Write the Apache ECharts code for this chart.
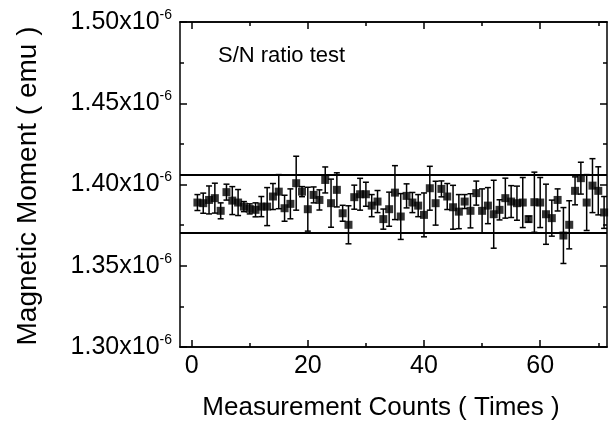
<!DOCTYPE html>
<html>
<head>
<meta charset="utf-8">
<script src="https://cdn.jsdelivr.net/npm/echarts@6.0.0/dist/echarts.min.js"></script>
<style>
html,body{margin:0;padding:0;background:#fff;}
#chart{width:615px;height:430px;}
</style>
</head>
<body>
<div id="chart"></div>
<script>
// Measurement index (Times)
const counts = [1,2,3,4,5,6,7,8,9,10,11,12,13,14,15,16,17,18,19,20,
  21,22,23,24,25,26,27,28,29,30,31,32,33,34,35,36,37,38,39,40,
  41,42,43,44,45,46,47,48,49,50,51,52,53,54,55,56,57,58,59,60,
  61,62,63,64,65,66,67,68,69,70,71];
// Magnetic moment in units of 1e-6 emu
const momentE6 = [1.3889,1.3885,1.3905,1.3916,1.3838,1.3953,1.3901,1.3889,1.3864,1.3850,
  1.3844,1.3864,1.3864,1.3926,1.3956,1.3854,1.3881,1.4008,1.3956,1.3848,
  1.3936,1.3905,1.4028,1.3885,1.3967,1.3823,1.3752,1.3922,1.3940,1.3940,
  1.3870,1.3895,1.3787,1.3848,1.3950,1.3803,1.3930,1.3889,1.3870,1.3813,
  1.3977,1.3885,1.3973,1.3926,1.3860,1.3833,1.3895,1.3838,1.3947,1.3838,
  1.3870,1.3817,1.3844,1.3916,1.3895,1.3885,1.3889,1.3787,1.3891,1.3889,
  1.3817,1.3793,1.3905,1.3686,1.3752,1.3961,1.4039,1.3889,1.3993,1.3961,
  1.3828];
// Error (half-height) in units of 1e-6 emu
const errorE6 = [0.0049,0.0062,0.0086,0.0092,0.0049,0.0049,0.0086,0.0080,0.0031,0.0031,
  0.0043,0.0062,0.0117,0.0080,0.0105,0.0080,0.0092,0.0166,0.0031,0.0135,
  0.0049,0.0062,0.0080,0.0148,0.0105,0.0049,0.0117,0.0074,0.0098,0.0074,
  0.0068,0.0068,0.0062,0.0105,0.0166,0.0141,0.0074,0.0062,0.0068,0.0135,
  0.0135,0.0135,0.0049,0.0080,0.0135,0.0105,0.0043,0.0105,0.0074,0.0135,
  0.0111,0.0209,0.0062,0.0123,0.0098,0.0105,0.0154,0.0018,0.0185,0.0154,
  0.0185,0.0111,0.0068,0.0172,0.0148,0.0086,0.0098,0.0172,0.0166,0.0148,
  0.0098];
// Reference band limits (1e-6 emu)
const bandLimitsE6 = [1.4058, 1.3700];
// Tick values
const xMajorTicks = [0, 20, 40, 60];
const xMinorTicks = [10, 30, 50, 70];
const yTickLabels = ['1.30', '1.35', '1.40', '1.45', '1.50'];

const FONT = '"Liberation Sans", Arial, sans-serif';
const chart = echarts.init(document.getElementById('chart'), null, {renderer: 'canvas'});

const points = counts.map((c, i) => [c, momentE6[i]]);
const bars = counts.map((c, i) => [c, momentE6[i] - errorE6[i], momentE6[i] + errorE6[i]]);

function xAxisDef(pos, ticks, len, labels) {
  return {
    type: 'value', position: pos, min: -2, max: 71.5,
    axisLine: {show: true, onZero: false, lineStyle: {color: '#000', width: 1.5}},
    splitLine: {show: false},
    axisTick: {show: true, inside: true, length: len, customValues: ticks, lineStyle: {color: '#000', width: 1.5}},
    axisLabel: labels ? {show: true, customValues: ticks, fontSize: 25, color: '#000', fontFamily: FONT, margin: 7} : {show: false}
  };
}
function yAxisDef(pos, labels) {
  return {
    type: 'value', position: pos, min: 1.30, max: 1.50, interval: 0.05,
    axisLine: {show: true, onZero: false, lineStyle: {color: '#000', width: 1.5}},
    splitLine: {show: false},
    axisTick: {show: true, inside: true, length: 7, lineStyle: {color: '#000', width: 1.5}},
    minorTick: {show: true, splitNumber: 2, length: 4, lineStyle: {color: '#000', width: 1.5}},
    axisLabel: labels ? {
      show: true, margin: 8,
      formatter: function (v) {
        const idx = Math.round((v - 1.30) / 0.05);
        return '{a|' + yTickLabels[idx] + 'x10}{b|-6}';
      },
      rich: {
        a: {fontSize: 25, fontFamily: FONT, color: '#000'},
        b: {fontSize: 14, fontFamily: FONT, color: '#000', verticalAlign: 'top', padding: [0, 0, 14, 0]}
      }
    } : {show: false}
  };
}

chart.setOption({
  animation: false,
  backgroundColor: '#fff',
  grid: {left: 180, right: 8, top: 22, bottom: 83, containLabel: false},
  xAxis: [
    xAxisDef('bottom', xMajorTicks, 7, true),
    xAxisDef('bottom', xMinorTicks, 4, false),
    xAxisDef('top', xMajorTicks, 7, false),
    xAxisDef('top', xMinorTicks, 4, false)
  ],
  yAxis: [yAxisDef('left', true), yAxisDef('right', false)],
  series: [
    {
      type: 'custom', xAxisIndex: 0, yAxisIndex: 0, data: bars, z: 3,
      renderItem: function (params, api) {
        const x = api.value(0);
        const top = api.coord([x, api.value(2)]);
        const bot = api.coord([x, api.value(1)]);
        const w = 3;
        const st = {stroke: '#000', lineWidth: 1.5};
        return {type: 'group', children: [
          {type: 'line', shape: {x1: top[0], y1: top[1], x2: bot[0], y2: bot[1]}, style: st},
          {type: 'line', shape: {x1: top[0] - w, y1: top[1], x2: top[0] + w, y2: top[1]}, style: st},
          {type: 'line', shape: {x1: bot[0] - w, y1: bot[1], x2: bot[0] + w, y2: bot[1]}, style: st}
        ]};
      }
    },
    {
      type: 'scatter', xAxisIndex: 0, yAxisIndex: 0, data: points, z: 4,
      symbol: 'rect', symbolSize: 8, itemStyle: {color: '#000'},
      markLine: {
        silent: true, precision: 6, symbol: ['none', 'none'], label: {show: false},
        lineStyle: {color: '#000', width: 2, type: 'solid'},
        data: bandLimitsE6.map(v => ({yAxis: v}))
      }
    }
  ],
  graphic: [
    {type: 'text', left: 218, top: 45, style: {text: 'S/N ratio test', fontSize: 22, fontFamily: FONT, fill: '#000'}},
    {type: 'text', x: 28, y: 186, rotation: Math.PI / 2,
      style: {text: 'Magnetic Moment ( emu )', fontSize: 28, fontFamily: FONT, fill: '#000', align: 'center', verticalAlign: 'middle'}},
    {type: 'text', x: 381, y: 408,
      style: {text: 'Measurement Counts ( Times )', fontSize: 26, fontFamily: FONT, fill: '#000', align: 'center', verticalAlign: 'middle'}}
  ]
});
</script>
</body>
</html>
